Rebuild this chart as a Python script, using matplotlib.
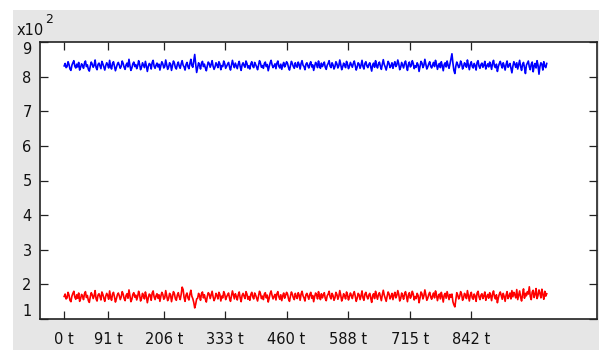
import numpy as np
import matplotlib
matplotlib.use('Agg')
import matplotlib.pyplot as plt
from matplotlib.patches import Rectangle

# values (one every 2 t)
blue_vals = [
    831, 838, 826, 829, 843, 835, 822, 818, 833, 840, 846, 830, 825, 836, 828, 841, 819, 827, 837, 832,
    824, 839, 845, 829, 834, 821, 816, 830, 842, 836, 827, 833, 848, 826, 820, 835, 839, 831, 823, 844,
    837, 828, 819, 832, 840, 834, 825, 847, 829, 822, 838, 843, 830, 817, 826, 836, 841, 833, 824, 830,
    845, 838, 827, 821, 834, 839, 828, 850, 832, 818, 825, 837, 842, 829, 835, 823, 831, 846, 836, 820,
    827, 840, 833, 826, 844, 831, 815, 829, 838, 835, 822, 841, 847, 830, 824, 833, 839, 828, 836, 819,
    832, 843, 837, 825, 829, 848, 834, 821, 827, 840, 836, 818, 831, 845, 839, 826, 822, 835, 842, 830,
    824, 837, 846, 833, 828, 819, 835, 841, 829, 823, 838, 850, 832, 827, 845, 864, 836, 812, 826, 840,
    833, 822, 839, 844, 829, 836, 825, 817, 831, 842, 838, 827, 835, 846, 830, 821, 828, 840, 834, 826,
    843, 837, 820, 832, 829, 845, 838, 824, 830, 836, 841, 828, 819, 833, 847, 835, 826, 839, 831, 823,
    836, 844, 829, 818, 834, 840, 832, 827, 845, 838, 825, 831, 822, 837, 843, 830, 826, 841, 835, 828,
    820, 833, 846, 839, 827, 832, 824, 838, 842, 829, 835, 817, 828, 840, 847, 834, 826, 831, 837, 823,
    839, 845, 830, 825, 836, 821, 833, 841, 828, 834, 843, 838, 826, 819, 832, 844, 837, 829, 824, 840,
    831, 827, 842, 835, 822, 838, 846, 833, 829, 820, 836, 840, 831, 825, 837, 843, 828, 834, 818, 830,
    841, 836, 826, 845, 832, 824, 839, 829, 835, 842, 827, 821, 833, 838, 846, 830, 826, 840, 834, 822,
    829, 843, 837, 825, 831, 848, 835, 820, 828, 839, 833, 826, 844, 836, 823, 830, 841, 834, 827, 838,
    845, 832, 819, 828, 840, 836, 824, 833, 847, 829, 822, 838, 843, 831, 826, 835, 840, 828, 816, 834,
    839, 827, 846, 833, 825, 837, 842, 830, 821, 836, 849, 835, 828, 819, 832, 844, 838, 826, 831, 840,
    824, 835, 843, 829, 834, 848, 837, 820, 827, 841, 833, 825, 839, 845, 830, 818, 836, 842, 828, 832,
    846, 838, 823, 831, 827, 840, 834, 815, 829, 844, 839, 826, 833, 850, 836, 822, 828, 837, 843, 830,
    825, 834, 841, 829, 847, 836, 821, 832, 838, 826, 843, 831, 817, 835, 840, 828, 845, 833, 824, 837,
    852, 866, 839, 818, 809, 830, 842, 835, 826, 831, 845, 838, 822, 829, 840, 834, 827, 848, 833, 820,
    836, 843, 829, 825, 838, 832, 819, 841, 846, 830, 824, 835, 839, 827, 833, 844, 822, 831, 837, 828,
    842, 834, 821, 839, 847, 830, 826, 836, 815, 829, 838, 844, 833, 825, 840, 831, 819, 835, 845, 827,
    832, 838, 824, 811, 830, 843, 836, 827, 840, 822, 834, 847, 829, 818, 835, 841, 826, 809, 833, 839,
    845, 828, 820, 836, 842, 814, 831, 838, 825, 846, 833, 807, 829, 840, 836, 819, 843, 830, 826, 838,
]
red_vals = [
    165, 172, 158, 161, 177, 169, 154, 150, 166, 174, 180, 163, 157, 170, 160, 175, 151, 159, 171, 166,
    156, 173, 179, 162, 168, 153, 148, 164, 176, 170, 159, 167, 182, 158, 152, 169, 173, 165, 155, 178,
    171, 160, 151, 166, 174, 168, 157, 181, 163, 154, 172, 177, 164, 149, 158, 170, 175, 167, 156, 164,
    179, 172, 159, 153, 168, 173, 160, 184, 166, 150, 157, 171, 176, 163, 169, 155, 165, 180, 170, 152,
    159, 174, 167, 158, 178, 165, 147, 161, 172, 169, 154, 175, 181, 164, 156, 167, 173, 160, 170, 151,
    166, 177, 171, 157, 161, 182, 168, 153, 159, 174, 170, 150, 165, 179, 173, 158, 154, 169, 176, 164,
    156, 171, 192, 185, 162, 151, 169, 175, 161, 155, 172, 183, 166, 159, 148, 132, 143, 158, 160, 174,
    167, 154, 173, 178, 161, 170, 157, 149, 165, 176, 172, 159, 169, 180, 164, 153, 160, 174, 168, 158,
    177, 171, 152, 166, 161, 179, 172, 156, 164, 170, 175, 160, 151, 167, 181, 169, 158, 173, 165, 155,
    170, 178, 161, 150, 168, 174, 166, 159, 179, 172, 157, 165, 154, 171, 177, 164, 158, 175, 169, 160,
    152, 167, 180, 173, 159, 166, 156, 172, 176, 161, 169, 149, 160, 174, 181, 168, 158, 165, 171, 155,
    173, 179, 164, 157, 170, 153, 167, 175, 160, 168, 177, 172, 158, 151, 166, 178, 171, 161, 156, 174,
    165, 159, 176, 169, 154, 172, 180, 167, 161, 152, 170, 174, 165, 157, 171, 177, 160, 168, 150, 164,
    175, 170, 158, 179, 166, 156, 173, 161, 169, 176, 159, 153, 167, 172, 180, 164, 158, 174, 168, 154,
    161, 177, 171, 157, 165, 182, 169, 152, 160, 173, 167, 158, 178, 170, 155, 164, 175, 168, 159, 172,
    179, 166, 151, 160, 174, 170, 156, 167, 181, 161, 154, 172, 177, 165, 158, 169, 174, 160, 148, 168,
    173, 159, 180, 167, 157, 171, 176, 164, 153, 170, 183, 169, 160, 151, 166, 178, 172, 158, 165, 174,
    156, 169, 177, 161, 168, 182, 171, 152, 159, 175, 167, 157, 173, 179, 164, 150, 170, 176, 160, 166,
    180, 172, 155, 165, 159, 174, 168, 147, 161, 178, 173, 158, 167, 184, 170, 154, 160, 171, 177, 164,
    157, 168, 175, 161, 181, 170, 153, 166, 172, 158, 177, 165, 149, 169, 174, 160, 179, 167, 156, 171,
    163, 172, 150, 141, 135, 155, 176, 169, 158, 165, 179, 172, 154, 161, 174, 168, 159, 182, 167, 152,
    170, 177, 161, 157, 172, 166, 151, 175, 180, 164, 156, 169, 173, 159, 167, 178, 154, 165, 171, 160,
    176, 168, 153, 173, 181, 164, 158, 170, 147, 161, 172, 178, 167, 157, 174, 165, 151, 169, 179, 159,
    166, 175, 158, 182, 164, 177, 170, 161, 185, 156, 168, 181, 163, 152, 171, 187, 160, 174, 167, 179,
    172, 193, 165, 156, 178, 183, 162, 171, 188, 159, 168, 184, 174, 161, 186, 170, 157, 180, 166, 173,
]
step = 2
xticks = [0, 91, 206, 333, 460, 588, 715, 842]
xtick_labels = ['0 t', '91 t', '206 t', '333 t', '460 t', '588 t', '715 t', '842 t']
yticks = [100, 200, 300, 400, 500, 600, 700, 800, 900]
ytick_labels = ['1', '2', '3', '4', '5', '6', '7', '8', '9']

plt.rcParams['font.family'] = ['DejaVu Sans']
fs = 10.5

fig = plt.figure(figsize=(6.1, 3.5), dpi=100, facecolor='white')
# grey window panel
fig.patches.append(Rectangle((13 / 610, 0), 586 / 610, 340 / 350, transform=fig.transFigure,
                             facecolor='#e6e6e6', edgecolor='none', zorder=-10))

ax = fig.add_axes([40 / 610, 31 / 350, 557 / 610, 277 / 350])
ax.set_facecolor('white')

x = np.arange(len(blue_vals)) * step
ax.plot(x, blue_vals, color='#0000ff', lw=1.2)
ax.plot(x, red_vals, color='#ff0000', lw=1.2)

ax.set_xlim(-50, 1102)
ax.set_ylim(100, 900)
ax.set_xticks(xticks)
ax.set_xticklabels(xtick_labels)
ax.set_yticks(yticks)
ax.set_yticklabels(ytick_labels)

ax.tick_params(direction='in', length=5.8, width=0.9, color='#222222',
               top=True, right=True, labelsize=fs, labelcolor='#111111')
ax.tick_params(axis='x', pad=9)
ax.tick_params(axis='y', pad=6)
for s in ax.spines.values():
    s.set_color('#222222')
    s.set_linewidth(1.2)

# end labels sit inside the axis range
ylabs = ax.get_yticklabels()
ylabs[0].set_va('bottom')
ylabs[-1].set_va('top')

fig.text(17 / 610, 1 - 35 / 350, 'x10', fontsize=fs, color='#111111', va='baseline')
fig.text(45 / 610, 1 - 23 / 350, '2', fontsize=9, color='#111111', va='baseline')

fig.savefig('out.png', dpi=100, facecolor=fig.get_facecolor())
